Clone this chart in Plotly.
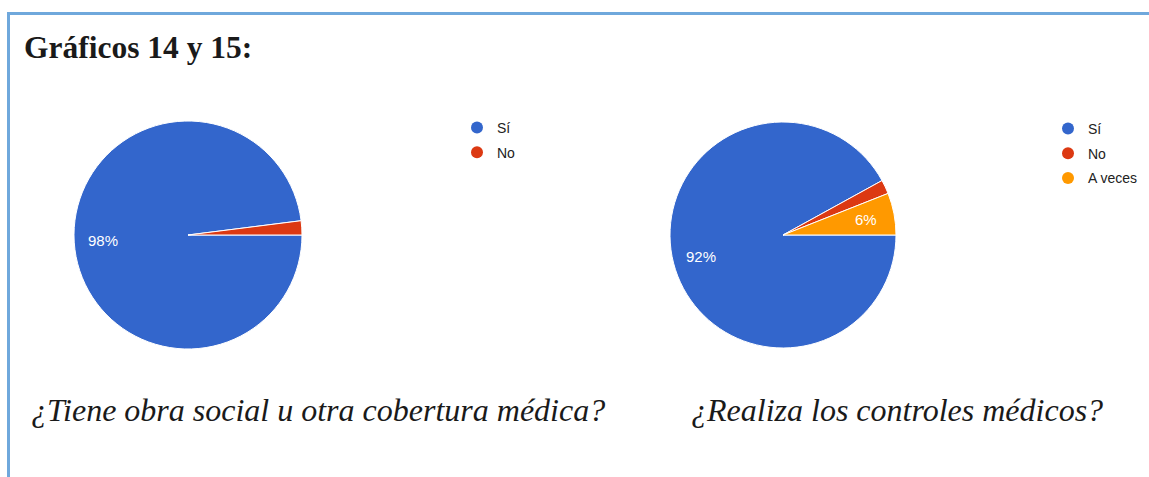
import math
import plotly.graph_objects as go

# Survey answers, charts 14 and 15 (percent of respondents)
labels_14 = ["Sí", "No"]
values_14 = [98, 2]
labels_15 = ["Sí", "No", "A veces"]
values_15 = [92, 2, 6]

colors = ["#3366CC", "#DC3912", "#FF9900"]

title_text = "<b>Gráficos 14 y 15:</b>"
caption_14 = "<i>¿Tiene obra social u otra cobertura médica?</i>"
caption_15 = "<i>¿Realiza los controles médicos?</i>"

W, H = 1149, 477


def px_x(x):
    return x / W


def px_y(y):
    return 1 - y / H


def pie_domain(cx, cy, r):
    return dict(x=[px_x(cx - r), px_x(cx + r)], y=[px_y(cy + r), px_y(cy - r)])


def slice_labels(values, cx, cy, r):
    """Percent labels on the bisector of each slice (clockwise from 3 o'clock)."""
    total = sum(values)
    out = []
    start = 0.0
    for v in values:
        frac = v / total
        mid = (start + frac / 2) * 2 * math.pi
        start += frac
        if frac < 0.05:
            continue
        x = cx + 0.75 * r * math.cos(mid)
        y = cy + 0.75 * r * math.sin(mid)
        out.append(dict(
            text="%d%%" % round(frac * 100), xref="paper", yref="paper",
            x=px_x(x), y=px_y(y), xanchor="center", yanchor="middle",
            showarrow=False,
            font=dict(family="Liberation Sans, Arial", size=15, color="white"),
        ))
    return out


PIE1 = (188, 235, 114)
PIE2 = (783, 235, 113)

fig = go.Figure()

fig.add_trace(go.Pie(
    labels=labels_14, values=values_14, sort=False, direction="clockwise",
    rotation=90, domain=pie_domain(*PIE1),
    marker=dict(colors=colors[:2], line=dict(color="white", width=1)),
    textinfo="none", showlegend=False, hoverinfo="label+percent",
))

fig.add_trace(go.Pie(
    labels=labels_15, values=values_15, sort=False, direction="clockwise",
    rotation=90, domain=pie_domain(*PIE2),
    marker=dict(colors=colors[:3], line=dict(color="white", width=1)),
    textinfo="none", showlegend=False, hoverinfo="label+percent",
))

# Legend entries drawn with round markers
for i, lab in enumerate(labels_14):
    fig.add_trace(go.Scatter(
        x=[None], y=[None], mode="markers", name=lab,
        marker=dict(symbol="circle", size=12, color=colors[i]),
        legend="legend", legendgroup="a%d" % i, showlegend=True,
    ))
for i, lab in enumerate(labels_15):
    fig.add_trace(go.Scatter(
        x=[None], y=[None], mode="markers", name=lab,
        marker=dict(symbol="circle", size=12, color=colors[i]),
        legend="legend2", legendgroup="b%d" % i, showlegend=True,
    ))

legend_font = dict(family="Liberation Sans, Arial", size=14, color="#222222")

annotations = [
    dict(text=title_text, xref="paper", yref="paper", x=px_x(22), y=px_y(47),
         xanchor="left", yanchor="middle", showarrow=False,
         font=dict(family="Liberation Serif, Times New Roman", size=31.5, color="#1a1a1a")),
    dict(text=caption_14, xref="paper", yref="paper", x=px_x(29), y=px_y(410),
         xanchor="left", yanchor="middle", showarrow=False,
         font=dict(family="Liberation Serif, Times New Roman", size=32, color="#1a1a1a")),
    dict(text=caption_15, xref="paper", yref="paper", x=px_x(689), y=px_y(410),
         xanchor="left", yanchor="middle", showarrow=False,
         font=dict(family="Liberation Serif, Times New Roman", size=32, color="#1a1a1a")),
]
annotations += slice_labels(values_14, *PIE1)
annotations += slice_labels(values_15, *PIE2)

fig.update_layout(
    width=W, height=H,
    margin=dict(l=0, r=0, t=0, b=0),
    paper_bgcolor="white", plot_bgcolor="white",
    xaxis=dict(visible=False, domain=[0, 0.01]),
    yaxis=dict(visible=False, domain=[0, 0.01]),
    legend=dict(x=px_x(457), y=px_y(112), xanchor="left", yanchor="top",
                font=legend_font, tracegroupgap=3.5, bgcolor="rgba(0,0,0,0)"),
    legend2=dict(x=px_x(1048), y=px_y(113), xanchor="left", yanchor="top",
                 font=legend_font, tracegroupgap=3.5, bgcolor="rgba(0,0,0,0)"),
    shapes=[
        dict(type="line", xref="paper", yref="paper",
             x0=px_x(7), x1=1, y0=px_y(13.5), y1=px_y(13.5),
             line=dict(color="#6FA8DC", width=3)),
        dict(type="line", xref="paper", yref="paper",
             x0=px_x(8.5), x1=px_x(8.5), y0=px_y(12), y1=0,
             line=dict(color="#6FA8DC", width=3)),
    ],
    annotations=annotations,
)

fig.write_html("out.html")
